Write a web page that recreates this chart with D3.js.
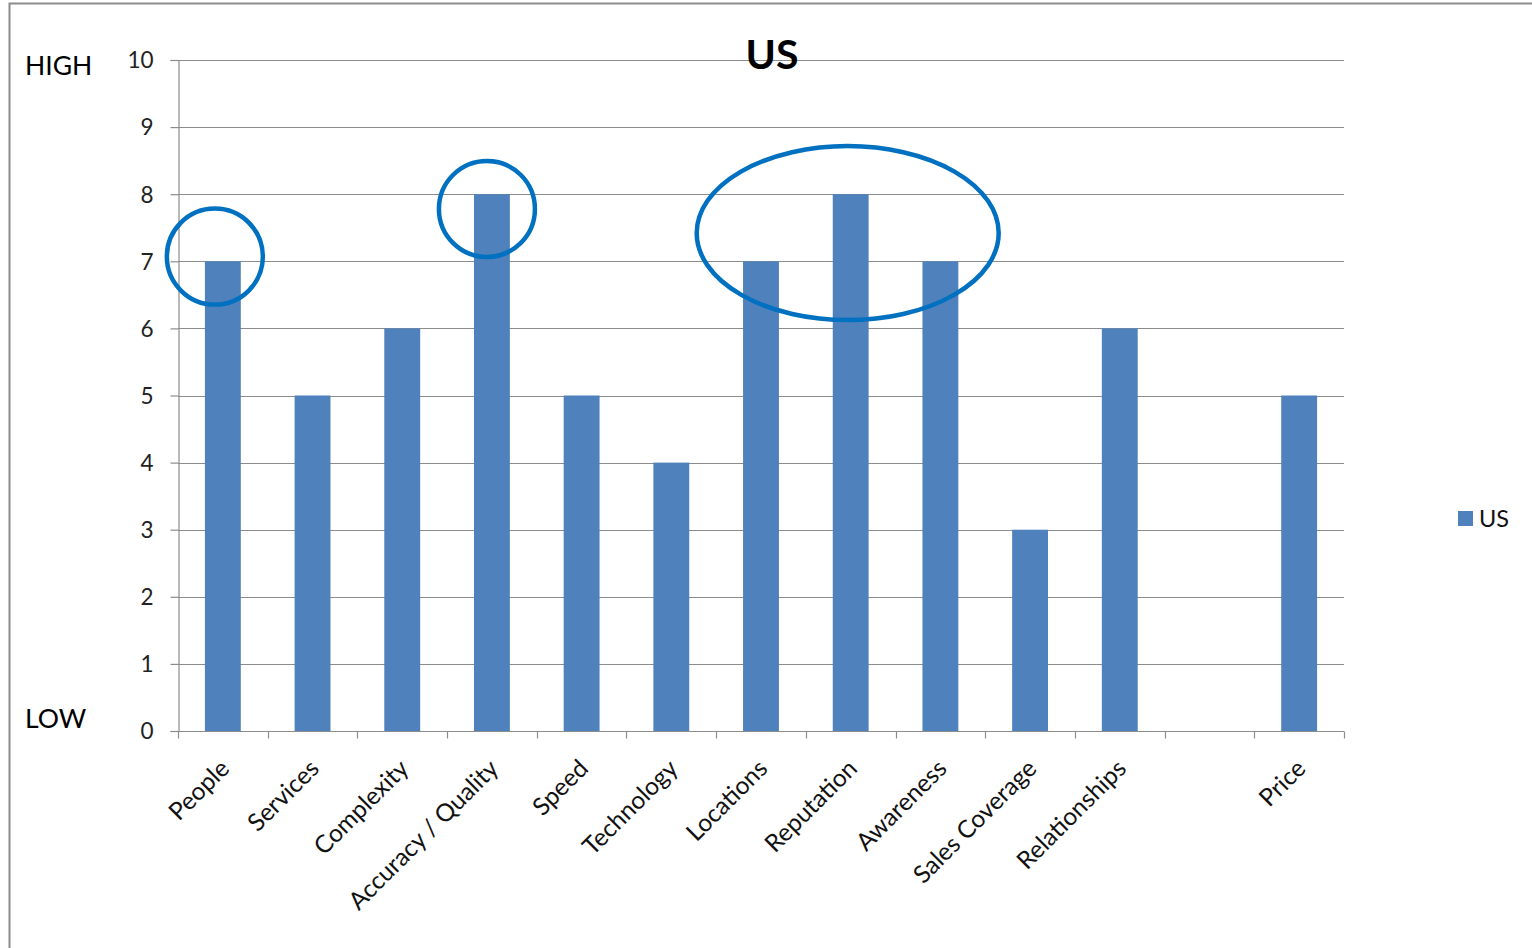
<!DOCTYPE html>
<html>
<head>
<meta charset="utf-8">
<script src="https://cdn.jsdelivr.net/npm/d3@7/dist/d3.min.js"></script>
<style>
  html, body { margin: 0; padding: 0; background: #fff; }
  svg { display: block; font-family: Lato, "Open Sans", sans-serif; }
</style>
</head>
<body>
<svg id="chart" width="1532" height="948"></svg>
<script>
// Category scores for the US
const categories = ["People", "Services", "Complexity", "Accuracy / Quality", "Speed", "Technology",
  "Locations", "Reputation", "Awareness", "Sales Coverage", "Relationships", "", "Price"];
const values = [7, 5, 6, 8, 5, 4, 7, 8, 7, 3, 6, null, 5];
const yTicks = [0, 1, 2, 3, 4, 5, 6, 7, 8, 9, 10];
const seriesName = "US";

// Highlight rings: the category they circle and the score level at their centre
const ringCategories = [["People"], ["Accuracy / Quality"], ["Locations", "Reputation", "Awareness"]];
const ringLevels = [7.07, 7.78, 7.42];

const svg = d3.select("#chart");
const margin = { left: 178, right: 1344, top: 60, bottom: 731 };

// page frame
svg.append("rect")
  .attr("x", 9.5).attr("y", 3.5).attr("width", 1600).attr("height", 1000)
  .attr("fill", "none").attr("stroke", "#8c8c8c").attr("stroke-width", 2);

const keys = categories.map((c, i) => i + ":" + c);
const x = d3.scaleBand().domain(keys).range([margin.left, margin.right]).paddingInner(0).paddingOuter(0);
const y = d3.scaleLinear().domain([0, 10]).range([margin.bottom, margin.top]);
const barW = x.bandwidth() * 0.4;

// gridlines
svg.append("g").selectAll("line").data(yTicks.filter(t => t > 0)).join("line")
  .attr("x1", margin.left).attr("x2", margin.right)
  .attr("y1", d => Math.round(y(d)) + 0.5).attr("y2", d => Math.round(y(d)) + 0.5)
  .attr("stroke", "#8c8c8c").attr("stroke-width", 1.2);

// title
svg.append("text").attr("x", 772).attr("y", 69).attr("text-anchor", "middle")
  .attr("font-size", 41).attr("font-weight", "bold").attr("fill", "#000").text(seriesName);

// bars
svg.append("g").selectAll("rect")
  .data(values.map((v, i) => ({ k: keys[i], v })).filter(d => d.v != null)).join("rect")
  .attr("x", d => x(d.k) + (x.bandwidth() - barW) / 2)
  .attr("width", barW)
  .attr("y", d => y(d.v))
  .attr("height", d => y(0) - y(d.v))
  .attr("fill", "#4f81bd");

// y axis
const yAxis = svg.append("g").attr("transform", `translate(${margin.left + 0.5},0)`)
  .call(d3.axisLeft(y).tickValues(yTicks).tickSize(8).tickPadding(17).tickFormat(d3.format("d")));
yAxis.select(".domain").attr("stroke", "#8c8c8c").attr("stroke-width", 1.2);
yAxis.selectAll(".tick line").attr("stroke", "#8c8c8c").attr("stroke-width", 1.2);
yAxis.selectAll(".tick text").attr("font-size", 22.5).attr("fill", "#222")
  .attr("font-family", "Lato, sans-serif").attr("dy", "0.35em");

// x axis
const xAxis = svg.append("g").attr("transform", `translate(0,${margin.bottom + 0.5})`);
xAxis.append("line").attr("x1", margin.left).attr("x2", margin.right)
  .attr("stroke", "#8c8c8c").attr("stroke-width", 1.2);
const edges = d3.range(categories.length + 1).map(i => margin.left + i * x.step());
xAxis.selectAll("line.tk").data(edges).join("line").attr("class", "tk")
  .attr("x1", d => Math.round(d) + 0.5).attr("x2", d => Math.round(d) + 0.5)
  .attr("y1", 0).attr("y2", 7).attr("stroke", "#8c8c8c").attr("stroke-width", 1.2);

svg.append("g").selectAll("text").data(keys).join("text")
  .attr("transform", d => `translate(${x(d) + x.bandwidth() / 2 + 8},${margin.bottom + 39}) rotate(-45)`)
  .attr("text-anchor", "end").attr("font-size", 24.5).attr("fill", "#111")
  .text(d => d.slice(d.indexOf(":") + 1));

// HIGH / LOW markers
svg.append("text").attr("x", 25).attr("y", 75).attr("font-size", 26.5).attr("fill", "#000").text("HIGH");
svg.append("text").attr("x", 25).attr("y", 728).attr("font-size", 26.5).attr("fill", "#000").text("LOW");

// legend
svg.append("rect").attr("x", 1458).attr("y", 511).attr("width", 15).attr("height", 15).attr("fill", "#4f81bd");
svg.append("text").attr("x", 1479).attr("y", 527).attr("font-size", 23.5).attr("fill", "#111").text(seriesName);

// highlight rings around the strongest categories
const ringShapes = [{ rx: 48, ry: 48, dx: -8 }, { rx: 48, ry: 48, dx: -5 }, { rx: 151, ry: 87, dx: -3 }];
svg.append("g").selectAll("ellipse").data(ringCategories.map((cats, i) => ({ cats, level: ringLevels[i], s: ringShapes[i] })))
  .join("ellipse")
  .attr("cx", d => {
    const cs = d.cats.map(c => { const k = keys[categories.indexOf(c)]; return x(k) + x.bandwidth() / 2; });
    return d3.mean(cs) + d.s.dx;
  })
  .attr("cy", d => y(d.level))
  .attr("rx", d => d.s.rx).attr("ry", d => d.s.ry)
  .attr("fill", "none").attr("stroke", "#0070c0").attr("stroke-width", 4.5);
</script>
</body>
</html>
